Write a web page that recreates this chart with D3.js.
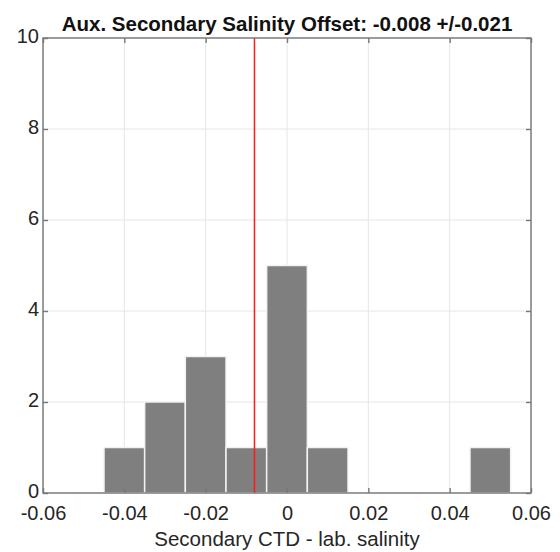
<!DOCTYPE html>
<html><head><meta charset="utf-8">
<script src="https://cdn.jsdelivr.net/npm/d3@7"></script>
<style>body{margin:0;background:#fff;} svg{display:block;font-family:"Liberation Sans",Arial,Helvetica,sans-serif;}</style>
</head><body>
<svg id="c" width="560" height="552"></svg>
<script>
const binCenters = [-0.04, -0.03, -0.02, -0.01, 0, 0.01, 0.05];
const binCounts = [1, 2, 3, 1, 5, 1, 1];
const binWidth = 0.01;
const meanOffset = -0.008;
const xTicks = [-0.06, -0.04, -0.02, 0, 0.02, 0.04, 0.06];
const yTicks = [0, 2, 4, 6, 8, 10];
const titleText = "Aux. Secondary Salinity Offset: -0.008 +/-0.021";
const xLabel = "Secondary CTD - lab. salinity";

const svg = d3.select("#c");
const m = {l: 43, r: 29, t: 38, b: 59};
const W = 560, H = 552;
const x = d3.scaleLinear().domain([-0.06, 0.06]).range([m.l, W - m.r]);
const y = d3.scaleLinear().domain([0, 10]).range([H - m.b, m.t]);

// grid
svg.append("g").selectAll("line").data(xTicks).join("line")
  .attr("x1", d => x(d)).attr("x2", d => x(d)).attr("y1", y(0)).attr("y2", y(10))
  .attr("stroke", "#e6e6e6").attr("stroke-width", 1);
svg.append("g").selectAll("line").data(yTicks).join("line")
  .attr("x1", x(-0.06)).attr("x2", x(0.06)).attr("y1", d => y(d)).attr("y2", d => y(d))
  .attr("stroke", "#e6e6e6").attr("stroke-width", 1);

// bars
svg.append("g").selectAll("rect").data(binCenters.map((c, i) => ({c, n: binCounts[i]}))).join("rect")
  .attr("x", d => x(d.c - binWidth / 2))
  .attr("width", d => x(d.c + binWidth / 2) - x(d.c - binWidth / 2))
  .attr("y", d => y(d.n))
  .attr("height", d => y(0) - y(d.n))
  .attr("fill", "#7f7f7f").attr("stroke", "#f2f2f2").attr("stroke-width", 1.5);

// mean line
svg.append("line").attr("x1", x(meanOffset)).attr("x2", x(meanOffset))
  .attr("y1", y(0)).attr("y2", y(10)).attr("stroke", "#ff1a1a").attr("stroke-width", 1.5);

// box
svg.append("rect").attr("x", x(-0.06)).attr("y", y(10))
  .attr("width", x(0.06) - x(-0.06)).attr("height", y(0) - y(10))
  .attr("fill", "none").attr("stroke", "#777").attr("stroke-width", 1.4);

// axes
const xa = svg.append("g").attr("transform", `translate(0,${y(0)})`)
  .call(d3.axisBottom(x).tickValues(xTicks).tickSizeInner(-5).tickSizeOuter(0).tickPadding(13)
    .tickFormat(d => d === 0 ? "0" : d3.format(".2f")(d).replace("\u2212", "-")));
const xt = svg.append("g").attr("transform", `translate(0,${y(10)})`)
  .call(d3.axisTop(x).tickValues(xTicks).tickSizeInner(-5).tickSizeOuter(0).tickFormat(""));
const ya = svg.append("g").attr("transform", `translate(${x(-0.06)},0)`)
  .call(d3.axisLeft(y).tickValues(yTicks).tickSizeInner(-5).tickSizeOuter(0).tickPadding(4));
const yr = svg.append("g").attr("transform", `translate(${x(0.06)},0)`)
  .call(d3.axisRight(y).tickValues(yTicks).tickSizeInner(-5).tickSizeOuter(0).tickFormat(""));
[xa, xt, ya, yr].forEach(g => {
  g.select(".domain").remove();
  g.selectAll("line").attr("stroke", "#777").attr("stroke-width", 1.4);
  g.selectAll("text").attr("fill", "#262626").attr("font-size", 20)
    .attr("font-family", "'Liberation Sans',Arial,sans-serif");
});
ya.selectAll("text").attr("dy", "0.22em");

svg.append("text").attr("x", (x(-0.06) + x(0.06)) / 2).attr("y", 31)
  .attr("text-anchor", "middle").attr("font-weight", "bold").attr("font-size", 20.5)
  .attr("fill", "#111").text(titleText);
svg.append("text").attr("x", (x(-0.06) + x(0.06)) / 2).attr("y", 546)
  .attr("text-anchor", "middle").attr("font-size", 20.5)
  .attr("fill", "#262626").text(xLabel);
</script>
</body></html>
